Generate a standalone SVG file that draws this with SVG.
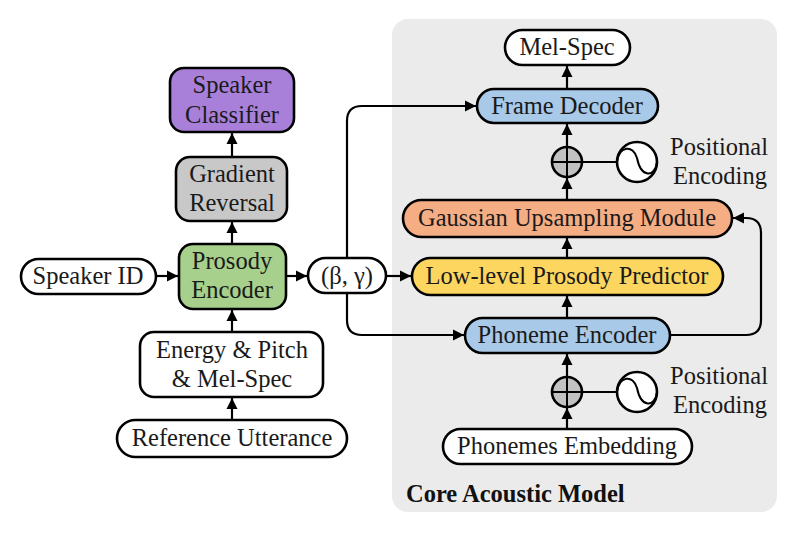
<svg xmlns="http://www.w3.org/2000/svg" width="800" height="533" viewBox="0 0 800 533">
<defs>
<marker id="ah" viewBox="0 0 10 10" refX="10" refY="5" markerWidth="5.2" markerHeight="5.2" markerUnits="strokeWidth" orient="auto">
<path d="M0,0 L10,5 L0,10 z" fill="#000"/>
</marker>
</defs>
<style>
.box{stroke:#000;stroke-width:2.6}
.t{font-size:24.5px;fill:#1a1a1a;text-anchor:middle}
.tl{font-size:24.5px;fill:#1a1a1a}
.c{fill:none;stroke:#000;stroke-width:2.2}
.a{marker-end:url(#ah)}
</style>
<rect x="392" y="19" width="385" height="493" rx="16" fill="#ebebeb"/>
<g font-family="Liberation Serif, Tinos, Times New Roman, DejaVu Serif, serif">
<text x="406" y="502" font-size="24.5" font-weight="bold" fill="#111">Core Acoustic Model</text>

<g id="connectors">
<path class="c a" d="M232,244 L232,222"/>
<path class="c a" d="M232,157 L232,133"/>
<path class="c a" d="M156,276 L178,276"/>
<path class="c a" d="M232,332 L232,310"/>
<path class="c a" d="M232,420 L232,398"/>
<path class="c a" d="M286,276 L307,276"/>
<path class="c a" d="M386,276 L411,276"/>
<path class="c a" d="M347,258 L347,121 Q347,106 362,106 L476,106"/>
<path class="c a" d="M347,293 L347,320 Q347,335 362,335 L464,335"/>
<path class="c a" d="M670,335 L746,335 Q761,335 761,320 L761,233 Q761,218 746,218 L733,218"/>
<path class="c a" d="M567,89 L567,66"/>
<path class="c a" d="M567,147 L567,124"/>
<path class="c a" d="M567,200 L567,178"/>
<path class="c a" d="M567,258 L567,238"/>
<path class="c a" d="M567,318 L567,296"/>
<path class="c a" d="M567,377 L567,354"/>
<path class="c a" d="M567,429 L567,408"/>
<path class="c" d="M582,162 L617,162"/>
<path class="c" d="M582,392 L617,392"/>
</g>

<g id="speaker-classifier">
<rect class="box" x="170" y="68" width="124" height="64" rx="14" fill="#a880da"/>
<text class="t" x="232" y="93">Speaker</text>
<text class="t" x="232" y="123">Classifier</text>
</g>
<g id="gradient-reversal">
<rect class="box" x="176" y="157" width="111" height="64" rx="14" fill="#c8c8c8"/>
<text class="t" x="232" y="182">Gradient</text>
<text class="t" x="232" y="211">Reversal</text>
</g>
<g id="prosody-encoder">
<rect class="box" x="179" y="244" width="107" height="65" rx="14" fill="#a6d08b"/>
<text class="t" x="232" y="269">Prosody</text>
<text class="t" x="232" y="298">Encoder</text>
</g>
<g id="speaker-id">
<rect class="box" x="21" y="259" width="135" height="35" rx="17.5" fill="#fff"/>
<text class="t" x="88" y="284">Speaker ID</text>
</g>
<g id="beta-gamma">
<rect class="box" x="308" y="258" width="78" height="35" rx="17.5" fill="#fff"/>
<text class="t" x="347" y="284">(β, γ)</text>
</g>
<g id="energy-pitch">
<rect class="box" x="140" y="332" width="183" height="65" rx="14" fill="#fff"/>
<text class="t" x="232" y="358">Energy &amp; Pitch</text>
<text class="t" x="232" y="387">&amp; Mel-Spec</text>
</g>
<g id="reference-utterance">
<rect class="box" x="117" y="420" width="230" height="37" rx="18.5" fill="#fff"/>
<text class="t" x="232" y="446">Reference Utterance</text>
</g>

<g id="mel-spec">
<rect class="box" x="505" y="30" width="125" height="35" rx="17.5" fill="#fff"/>
<text class="t" x="567" y="55">Mel-Spec</text>
</g>
<g id="frame-decoder">
<rect class="box" x="477" y="89" width="181" height="34" rx="17" fill="#a9c9e8"/>
<text class="t" x="567" y="114">Frame Decoder</text>
</g>
<g id="plus-top">
<circle class="box" cx="567" cy="162" r="15" fill="#c2c2c2"/>
<path d="M552,162 H582 M567,147 V177" stroke="#000" stroke-width="2"/>
</g>
<g id="pe-top">
<circle class="box" cx="637" cy="162" r="20" fill="#fff"/>
<path d="M617,162 C619,146 633,144 637,158 C641,178 655,178 657,162" fill="none" stroke="#000" stroke-width="2"/>
<text class="tl" x="670" y="155">Positional</text>
<text class="tl" x="673" y="184">Encoding</text>
</g>
<g id="gaussian-upsampling">
<rect class="box" x="403" y="200" width="329" height="37" rx="18.5" fill="#f5ad84"/>
<text class="t" x="567" y="226">Gaussian Upsampling Module</text>
</g>
<g id="low-level-prosody">
<rect class="box" x="412" y="258" width="311" height="37" rx="18.5" fill="#fdd660"/>
<text class="t" x="567" y="284">Low-level Prosody Predictor</text>
</g>
<g id="phoneme-encoder">
<rect class="box" x="465" y="318" width="205" height="35" rx="17.5" fill="#a9c9e8"/>
<text class="t" x="567" y="343">Phoneme Encoder</text>
</g>
<g id="plus-bottom">
<circle class="box" cx="567" cy="392" r="15" fill="#c2c2c2"/>
<path d="M552,392 H582 M567,377 V407" stroke="#000" stroke-width="2"/>
</g>
<g id="pe-bottom">
<circle class="box" cx="637" cy="392" r="20" fill="#fff"/>
<path d="M617,392 C619,376 633,374 637,388 C641,408 655,408 657,392" fill="none" stroke="#000" stroke-width="2"/>
<text class="tl" x="670" y="384">Positional</text>
<text class="tl" x="673" y="413">Encoding</text>
</g>
<g id="phonemes-embedding">
<rect class="box" x="443" y="429" width="249" height="35" rx="17.5" fill="#fff"/>
<text class="t" x="567" y="454">Phonemes Embedding</text>
</g>
</g>
</svg>
